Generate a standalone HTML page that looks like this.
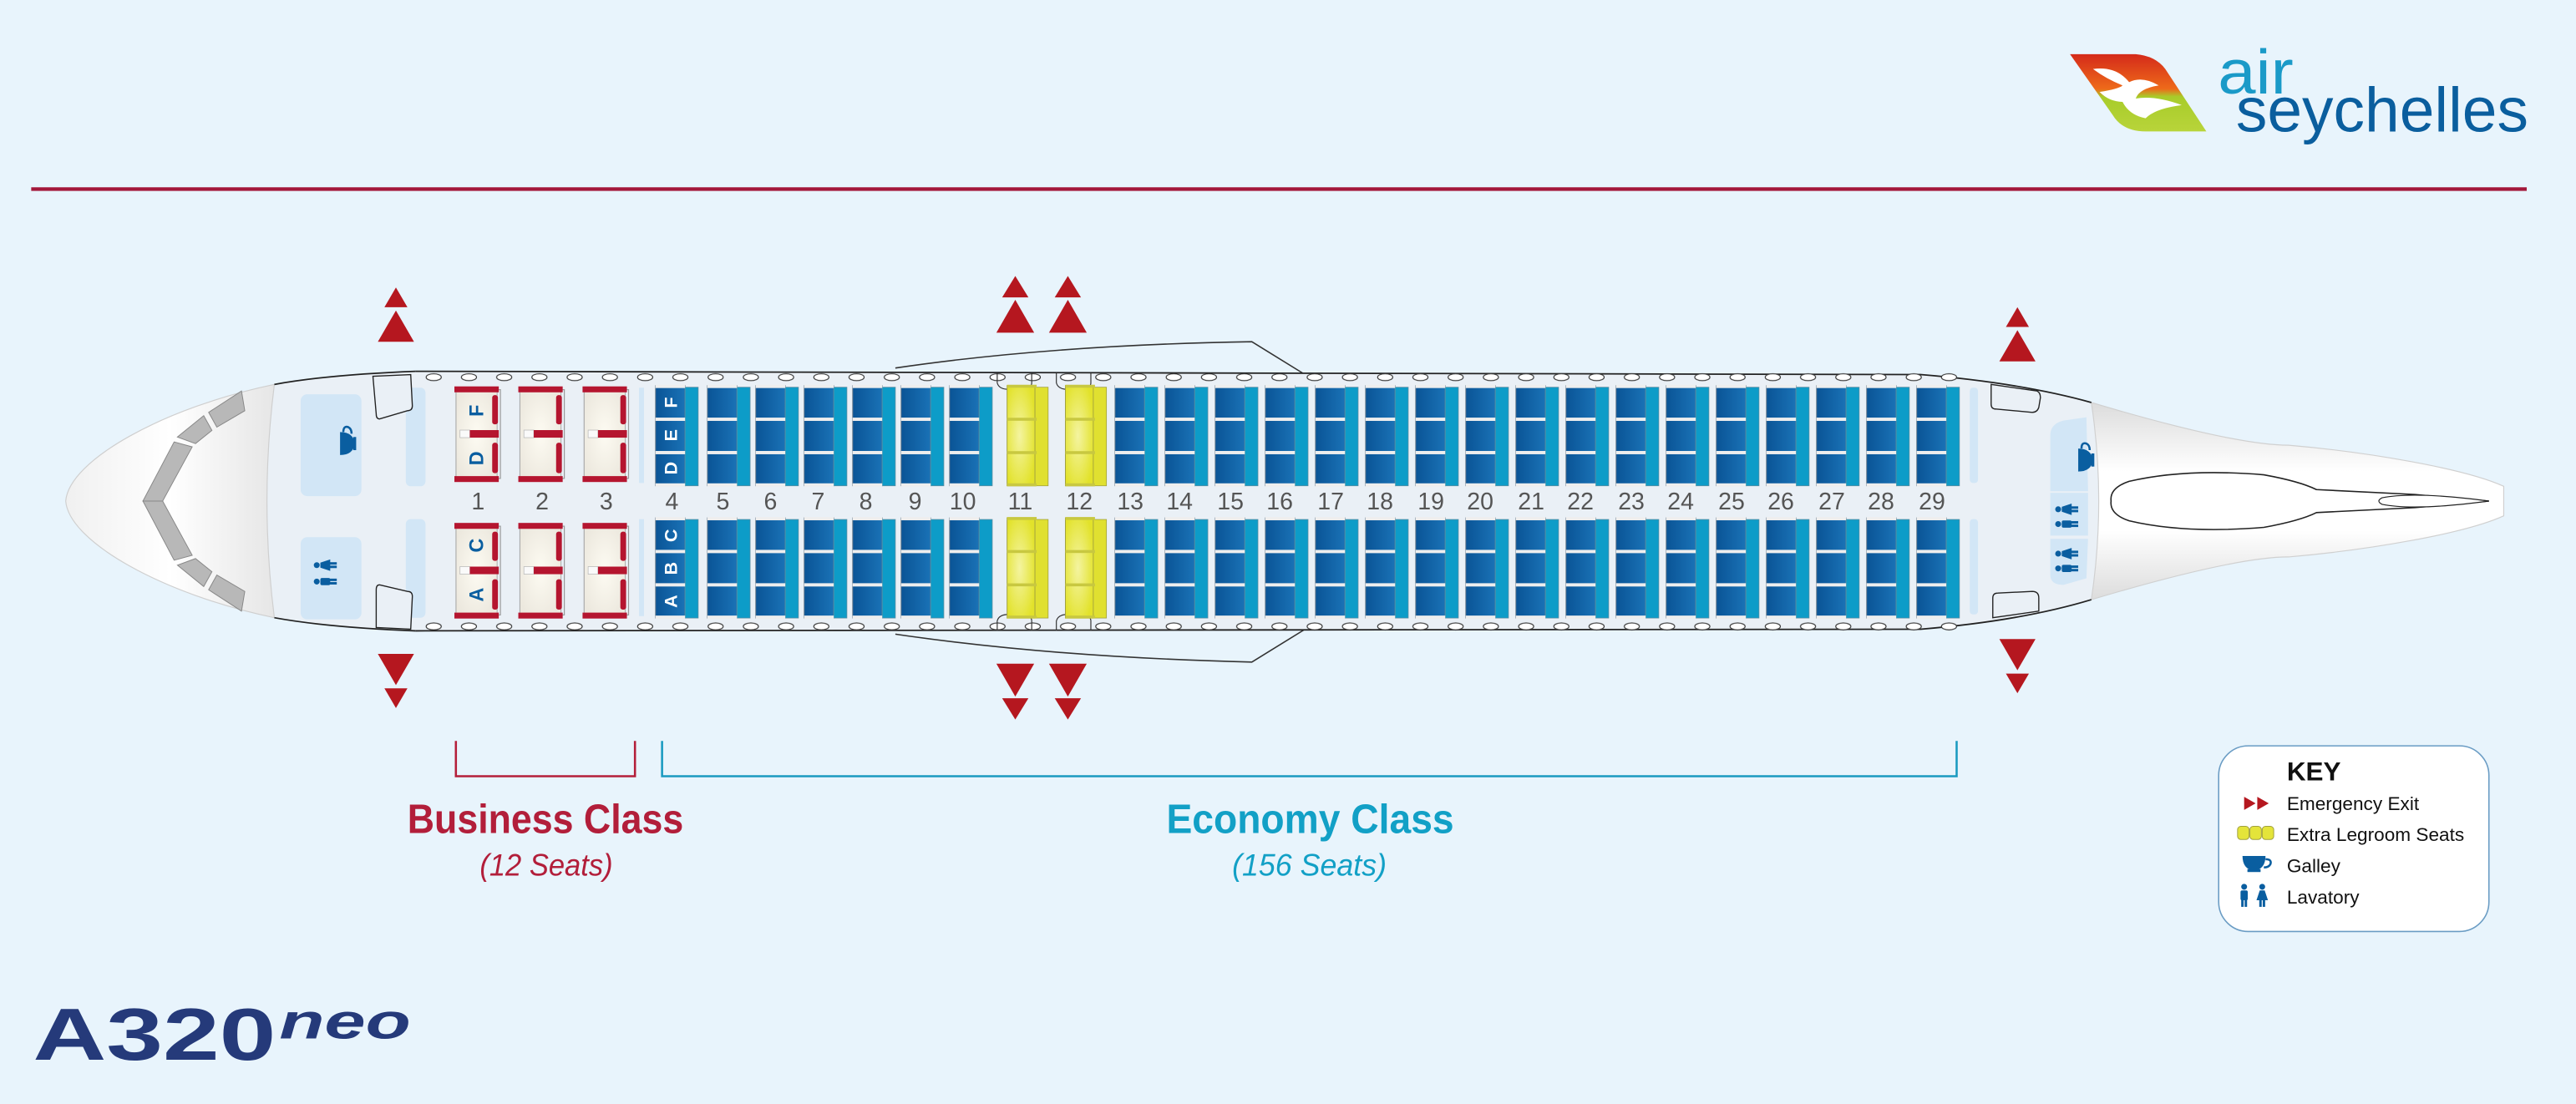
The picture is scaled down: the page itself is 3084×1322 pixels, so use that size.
<!DOCTYPE html>
<html><head><meta charset="utf-8"><style>
html,body{margin:0;padding:0;background:#e8f4fc;}
svg{display:block;}
text{font-family:"Liberation Sans",sans-serif;}
</style></head><body>
<svg width="3084" height="1322" viewBox="0 0 1568 672" preserveAspectRatio="none" xmlns="http://www.w3.org/2000/svg">
<defs>
<linearGradient id="dk" x1="0" x2="1" y1="0" y2="0"><stop offset="0" stop-color="#0a5496"/><stop offset="1" stop-color="#1a72b6"/></linearGradient>
<radialGradient id="yl" cx="0.45" cy="0.5" r="0.6"><stop offset="0" stop-color="#f4f4a0"/><stop offset="1" stop-color="#e2e22a"/></radialGradient>
<radialGradient id="cr" cx="0.5" cy="0.5" r="0.6"><stop offset="0" stop-color="#fdfbf2"/><stop offset="1" stop-color="#ece8de"/></radialGradient>
<linearGradient id="nose" x1="0" x2="1"><stop offset="0" stop-color="#f0f0f0"/><stop offset="0.5" stop-color="#ffffff"/><stop offset="1" stop-color="#e6e6e6"/></linearGradient>
<linearGradient id="tail" x1="0" x2="0" y1="0" y2="1"><stop offset="0" stop-color="#dcdcdc"/><stop offset="0.35" stop-color="#ffffff"/><stop offset="0.65" stop-color="#ffffff"/><stop offset="1" stop-color="#dcdcdc"/></linearGradient>
<linearGradient id="logo" x1="0" x2="0" y1="0" y2="1"><stop offset="0" stop-color="#d42a1a"/><stop offset="0.45" stop-color="#ee6a1a"/><stop offset="0.55" stop-color="#a8cc2a"/><stop offset="1" stop-color="#b8d43a"/></linearGradient>
<pattern id="win" patternUnits="userSpaceOnUse" x="258" y="0" width="21.45" height="700">
<ellipse cx="6" cy="229.6" rx="4.6" ry="2.1" fill="#fff" stroke="#333" stroke-width="0.6"/>
<ellipse cx="6" cy="381.3" rx="4.6" ry="2.1" fill="#fff" stroke="#333" stroke-width="0.6"/>
</pattern>
<g id="eco">
<rect x="0" y="0" width="18" height="61" fill="url(#dk)" stroke="#6a7c8c" stroke-width="0.5"/>
<rect x="18" y="1" width="8" height="60" fill="#0d9cc8" stroke="#5a8ca0" stroke-width="0.4"/>
<rect x="0" y="-0.5" width="18" height="2" fill="#eeeeee"/>
<rect x="0" y="19.5" width="18" height="2" fill="#eeeeee"/>
<rect x="0" y="39.8" width="18" height="2" fill="#eeeeee"/>
<rect x="0" y="59.5" width="18" height="2" fill="#eeeeee"/>
</g>
<g id="yel">
<rect x="0" y="0" width="17" height="61" fill="url(#yl)" stroke="#a0a040" stroke-width="0.5"/>
<rect x="17" y="1" width="8" height="60" fill="#e0e030" stroke="#a0a040" stroke-width="0.4"/>
<rect x="0" y="-0.5" width="18" height="1.8" fill="#c8c840"/>
<rect x="0" y="19.6" width="18" height="1.8" fill="#c8c840"/>
<rect x="0" y="39.9" width="18" height="1.8" fill="#c8c840"/>
<rect x="0" y="59.5" width="18" height="1.8" fill="#c8c840"/>
</g>
<g id="bus">
<rect x="1" y="2" width="27" height="54" fill="none" stroke="#999" stroke-width="0.6"/>
<rect x="1" y="2" width="25" height="54" fill="url(#cr)" stroke="#aaa" stroke-width="0.5"/>
<rect x="0" y="0" width="27" height="3.6" fill="#b5152f"/>
<rect x="0" y="54.6" width="27" height="3.6" fill="#b5152f"/>
<rect x="3.4" y="26.6" width="6" height="4.6" fill="#fafafa" stroke="#bbb" stroke-width="0.4"/>
<rect x="9.4" y="26.6" width="17.6" height="4.6" fill="#b5152f"/>
<rect x="23" y="5.3" width="3.5" height="17.8" rx="1.5" fill="#b5152f"/>
<rect x="23" y="34.3" width="3.5" height="18.5" rx="1.5" fill="#b5152f"/>
</g>
<g id="cup"><path d="M0 0 H14 Q14 8 7 9 Q0 8 0 0 Z" fill="#0a5ea0"/><path d="M14 2 Q18 2 17 5 Q16 7 13 7" fill="none" stroke="#0a5ea0" stroke-width="1.3"/><rect x="3" y="8" width="8" height="1.8" fill="#0a5ea0"/></g>
<g id="man"><circle cx="3" cy="1.8" r="1.8" fill="#0a5ea0"/><rect x="0.8" y="4" width="4.4" height="6" rx="1" fill="#0a5ea0"/><rect x="1.2" y="9" width="1.5" height="5" fill="#0a5ea0"/><rect x="3.3" y="9" width="1.5" height="5" fill="#0a5ea0"/></g>
<g id="wom"><circle cx="3" cy="1.8" r="1.8" fill="#0a5ea0"/><path d="M1.5 4 H4.5 L6.5 10 H-0.5 Z" fill="#0a5ea0"/><rect x="1.2" y="9" width="1.5" height="5" fill="#0a5ea0"/><rect x="3.3" y="9" width="1.5" height="5" fill="#0a5ea0"/></g>
</defs>

<rect width="1568" height="672" fill="#e8f4fc"/>

<!-- header -->
<rect x="19" y="114" width="1519" height="2.2" fill="#a3173a"/>
<g>
<path d="M1260 33 H1300 Q1312 34 1318 42 L1343 80 H1306 Q1292 80 1286 70 Z" fill="url(#logo)"/>
<path d="M1274 42 Q1288 40 1296 50 Q1304 46 1314 52 Q1302 54 1300 60 Q1312 58 1328 64 Q1312 66 1306 72 Q1296 70 1292 62 Q1284 62 1278 56 Q1290 54 1292 52 Q1282 48 1274 42 Z" fill="#fff"/>
</g>
<text x="1350" y="57" font-size="38" fill="#1a9ac8" textLength="46" lengthAdjust="spacingAndGlyphs">air</text>
<text x="1361" y="80" font-size="38" fill="#0a5e9e" textLength="178" lengthAdjust="spacingAndGlyphs">seychelles</text>

<!-- wing bulges -->
<path d="M545 224 Q640 210 762 208 L796 229" fill="none" stroke="#333" stroke-width="0.8"/>
<path d="M545 386 Q640 400 762 403 L796 382" fill="none" stroke="#333" stroke-width="0.8"/>

<!-- fuselage -->
<path d="M253 226 L1169 228 Q1230 233 1273 245 C1330 262 1370 271 1393 271 C1440 275 1500 285 1524 296 L1524 314 C1500 325 1440 335 1393 339 C1370 339 1330 348 1273 365 Q1230 378 1169 383 L253 384 Q200 382 167 376 C100 362 42 330 40 305 C42 280 100 248 167 234 Q200 228 253 226 Z" fill="#eaf0f6"/>
<path d="M167 234 C100 248 42 280 40 305 C42 330 100 362 167 376 Q158 305 167 234 Z" fill="url(#nose)" stroke="#cfcfcf" stroke-width="0.6"/>
<g fill="#b8b8b8" stroke="#888" stroke-width="0.5">
<path d="M87 305 L106 269 L117 272 L99 305 Z"/>
<path d="M108 266 L124 253 L129 262 L119 270 Z"/>
<path d="M127 251 L147 238 L149 250 L132 260 Z"/>
<path d="M87 305 L106 341 L117 338 L99 305 Z"/>
<path d="M108 344 L124 357 L129 348 L119 340 Z"/>
<path d="M127 359 L147 372 L149 360 L132 350 Z"/>
</g>
<path d="M1273 245 C1330 262 1370 271 1393 271 C1440 275 1500 285 1524 296 L1524 314 C1500 325 1440 335 1393 339 C1370 339 1330 348 1273 365 Q1282 305 1273 245 Z" fill="url(#tail)" stroke="#d0d0d0" stroke-width="0.6"/>
<path d="M1296 293 Q1330 285 1378 289 Q1400 293 1410 298 L1470 301 L1515 305 L1470 309 L1410 312 Q1400 317 1378 321 Q1330 325 1296 317 Q1284 313 1285 305 Q1284 297 1296 293 Z" fill="#fff" stroke="#222" stroke-width="0.8"/>
<path d="M1450 303 Q1470 299 1515 305 Q1470 311 1450 307 Q1446 305 1450 303 Z" fill="#fff" stroke="#222" stroke-width="0.6"/>
<path d="M253 226 L1169 228 Q1230 233 1273 245" fill="none" stroke="#222" stroke-width="0.9"/>
<path d="M253 384 L1169 383 Q1230 378 1273 365" fill="none" stroke="#222" stroke-width="0.9"/>
<path d="M253 226 Q200 228 167 234" fill="none" stroke="#222" stroke-width="0.9"/>
<path d="M253 384 Q200 382 167 376" fill="none" stroke="#222" stroke-width="0.9"/>

<rect x="258" y="226" width="936" height="8" fill="url(#win)"/>
<rect x="258" y="378" width="936" height="8" fill="url(#win)"/>
<g fill="none" stroke="#333" stroke-width="0.6">
<path d="M607 227 V233 Q608 237 614 237 H624 Q628 236 628 233 V227"/>
<path d="M643 227 V233 Q644 237 650 237 H660 Q664 236 664 233 V227"/>
<path d="M607 384 V378 Q608 374 614 374 H624 Q628 375 628 378 V384"/>
<path d="M643 384 V378 Q644 374 650 374 H660 Q664 375 664 378 V384"/>
</g>

<rect x="183" y="240" width="37" height="62" rx="4" fill="#d2e6f6"/>
<rect x="183" y="327" width="37" height="50" rx="4" fill="#d2e6f6"/>
<rect x="247" y="236" width="12" height="60" rx="3" fill="#d2e6f6"/>
<rect x="247" y="316" width="12" height="60" rx="3" fill="#d2e6f6"/>
<rect x="389" y="236" width="3" height="58" fill="#d2e6f6"/>
<rect x="389" y="316" width="3" height="59" fill="#d2e6f6"/>
<g transform="translate(207,277) rotate(-90)"><use href="#cup"/></g>
<g transform="translate(191,357) rotate(-90)"><use href="#man"/></g>
<g transform="translate(191,347) rotate(-90)"><use href="#wom"/></g>
<path d="M227 229 L250 228 L251 247 Q251 250 248 250 L231 255 Q229 255 229 252 Z" fill="#eaf0f6" stroke="#222" stroke-width="0.7"/>
<path d="M229 382 L250 383 L251 363 Q251 360 248 360 L231 356 Q229 356 229 359 Z" fill="#eaf0f6" stroke="#222" stroke-width="0.7"/>

<rect x="1199" y="236" width="5" height="58" rx="2" fill="#d2e6f6"/>
<rect x="1199" y="316" width="5" height="58" rx="2" fill="#d2e6f6"/>
<path d="M1248 265 Q1248 258 1256 256 L1270 254 L1271 299 L1248 299 Z" fill="#d2e6f6"/>
<rect x="1248" y="300" width="23" height="26" fill="#d2e6f6"/>
<path d="M1248 328 H1271 L1270 352 L1256 356 Q1248 356 1248 350 Z" fill="#d2e6f6"/>
<g transform="translate(1265,287) rotate(-90)"><use href="#cup"/></g>
<g transform="translate(1251,322) rotate(-90)"><use href="#man"/></g>
<g transform="translate(1251,313) rotate(-90)"><use href="#wom"/></g>
<g transform="translate(1251,349) rotate(-90)"><use href="#man"/></g>
<g transform="translate(1251,340) rotate(-90)"><use href="#wom"/></g>
<path d="M1212 234 L1240 238 Q1242 239 1242 242 L1241 248 Q1240 251 1237 251 L1215 249 Q1212 249 1212 246 Z" fill="#eaf0f6" stroke="#222" stroke-width="0.7"/>
<path d="M1213 376 L1241 372 L1241 364 Q1241 360 1237 360 L1216 361 Q1213 361 1213 364 Z" fill="#eaf0f6" stroke="#222" stroke-width="0.7"/>

<use href="#bus" x="276.6" y="235.2"/><use href="#bus" x="276.6" y="318.3"/>
<use href="#bus" x="315.5" y="235.2"/><use href="#bus" x="315.5" y="318.3"/>
<use href="#bus" x="354.6" y="235.2"/><use href="#bus" x="354.6" y="318.3"/>
<g font-weight="bold" font-size="12" fill="#0a5ea0" text-anchor="middle">
<text transform="translate(294,250) rotate(-90)">F</text>
<text transform="translate(294,279) rotate(-90)">D</text>
<text transform="translate(294,332) rotate(-90)">C</text>
<text transform="translate(294,362) rotate(-90)">A</text>
</g>

<g>
<use href="#eco" x="399" y="234.7"/><use href="#eco" x="399" y="315.2"/>
<use href="#eco" x="430.6" y="234.7"/><use href="#eco" x="430.6" y="315.2"/>
<use href="#eco" x="460" y="234.7"/><use href="#eco" x="460" y="315.2"/>
<use href="#eco" x="489.5" y="234.7"/><use href="#eco" x="489.5" y="315.2"/>
<use href="#eco" x="519" y="234.7"/><use href="#eco" x="519" y="315.2"/>
<use href="#eco" x="548.5" y="234.7"/><use href="#eco" x="548.5" y="315.2"/>
<use href="#eco" x="578" y="234.7"/><use href="#eco" x="578" y="315.2"/>
<use href="#yel" x="613" y="234.7"/><use href="#yel" x="613" y="315.2"/>
<use href="#yel" x="648.5" y="234.7"/><use href="#yel" x="648.5" y="315.2"/>
<use href="#eco" x="678.7" y="234.7"/><use href="#eco" x="678.7" y="315.2"/>
<use href="#eco" x="709.2" y="234.7"/><use href="#eco" x="709.2" y="315.2"/>
<use href="#eco" x="739.7" y="234.7"/><use href="#eco" x="739.7" y="315.2"/>
<use href="#eco" x="770.2" y="234.7"/><use href="#eco" x="770.2" y="315.2"/>
<use href="#eco" x="800.7" y="234.7"/><use href="#eco" x="800.7" y="315.2"/>
<use href="#eco" x="831.2" y="234.7"/><use href="#eco" x="831.2" y="315.2"/>
<use href="#eco" x="861.7" y="234.7"/><use href="#eco" x="861.7" y="315.2"/>
<use href="#eco" x="892.2" y="234.7"/><use href="#eco" x="892.2" y="315.2"/>
<use href="#eco" x="922.7" y="234.7"/><use href="#eco" x="922.7" y="315.2"/>
<use href="#eco" x="953.2" y="234.7"/><use href="#eco" x="953.2" y="315.2"/>
<use href="#eco" x="983.7" y="234.7"/><use href="#eco" x="983.7" y="315.2"/>
<use href="#eco" x="1014.2" y="234.7"/><use href="#eco" x="1014.2" y="315.2"/>
<use href="#eco" x="1044.7" y="234.7"/><use href="#eco" x="1044.7" y="315.2"/>
<use href="#eco" x="1075.2" y="234.7"/><use href="#eco" x="1075.2" y="315.2"/>
<use href="#eco" x="1105.7" y="234.7"/><use href="#eco" x="1105.7" y="315.2"/>
<use href="#eco" x="1136.2" y="234.7"/><use href="#eco" x="1136.2" y="315.2"/>
<use href="#eco" x="1166.7" y="234.7"/><use href="#eco" x="1166.7" y="315.2"/>
</g>
<g font-weight="bold" font-size="11" fill="#ffffff" text-anchor="middle">
<text transform="translate(412,245) rotate(-90)">F</text>
<text transform="translate(412,265) rotate(-90)">E</text>
<text transform="translate(412,285) rotate(-90)">D</text>
<text transform="translate(412,326) rotate(-90)">C</text>
<text transform="translate(412,346) rotate(-90)">B</text>
<text transform="translate(412,366) rotate(-90)">A</text>
</g>

<g font-size="14.5" fill="#555" text-anchor="middle">
<text x="291" y="310">1</text><text x="330" y="310">2</text><text x="369" y="310">3</text>
<text x="409" y="310">4</text><text x="440" y="310">5</text><text x="469" y="310">6</text><text x="498" y="310">7</text><text x="527" y="310">8</text><text x="557" y="310">9</text><text x="586" y="310">10</text>
<text x="621" y="310">11</text><text x="657" y="310">12</text>
<text x="688" y="310">13</text><text x="718" y="310">14</text><text x="749" y="310">15</text><text x="779" y="310">16</text><text x="810" y="310">17</text><text x="840" y="310">18</text><text x="871" y="310">19</text><text x="901" y="310">20</text><text x="932" y="310">21</text><text x="962" y="310">22</text><text x="993" y="310">23</text><text x="1023" y="310">24</text><text x="1054" y="310">25</text><text x="1084" y="310">26</text><text x="1115" y="310">27</text><text x="1145" y="310">28</text><text x="1176" y="310">29</text>
</g>

<g fill="#b5171f">
<path d="M241 175 L248 187 L234 187 Z"/><path d="M241 189 L252 208 L230 208 Z"/>
<path d="M241 417 L252 398 L230 398 Z"/><path d="M241 431 L248 419 L234 419 Z"/>
<path d="M618 168 L626 181 L610 181 Z"/><path d="M618 182.5 L629.5 202.5 L606.5 202.5 Z"/>
<path d="M650 168 L658 181 L642 181 Z"/><path d="M650 182.5 L661.5 202.5 L638.5 202.5 Z"/>
<path d="M618 424 L629.5 404 L606.5 404 Z"/><path d="M618 438 L626 425 L610 425 Z"/>
<path d="M650 424 L661.5 404 L638.5 404 Z"/><path d="M650 438 L658 425 L642 425 Z"/>
<path d="M1228 187 L1235 199 L1221 199 Z"/><path d="M1228 201 L1239 220 L1217 220 Z"/>
<path d="M1228 408 L1239 389 L1217 389 Z"/><path d="M1228 422 L1235 410 L1221 410 Z"/>
</g>

<path d="M277.5 451 V472.5 H386.5 V451" fill="none" stroke="#b41f3a" stroke-width="1.3"/>
<path d="M403 451 V472.5 H1191 V451" fill="none" stroke="#1a9ac0" stroke-width="1.3"/>
<text x="248" y="507" font-size="25" font-weight="bold" fill="#b21e3a" textLength="168" lengthAdjust="spacingAndGlyphs">Business Class</text>
<text x="292" y="533" font-size="19" font-style="italic" fill="#b21e3a" textLength="81" lengthAdjust="spacingAndGlyphs">(12 Seats)</text>
<text x="710" y="507" font-size="25" font-weight="bold" fill="#12a0c6" textLength="175" lengthAdjust="spacingAndGlyphs">Economy Class</text>
<text x="750" y="533" font-size="19" font-style="italic" fill="#12a0c6" textLength="94" lengthAdjust="spacingAndGlyphs">(156 Seats)</text>

<rect x="1350.5" y="454" width="164.5" height="113" rx="18" fill="#ffffff" stroke="#6a9cc4" stroke-width="0.8"/>
<text x="1392" y="475" font-size="16" font-weight="bold" fill="#111">KEY</text>
<g font-size="11.5" fill="#111">
<text x="1392" y="493">Emergency Exit</text>
<text x="1392" y="512">Extra Legroom Seats</text>
<text x="1392" y="531">Galley</text>
<text x="1392" y="550">Lavatory</text>
</g>
<path d="M1366 485 L1373 489 L1366 493 Z M1374 485 L1381 489 L1374 493 Z" fill="#b5171f"/>
<g fill="#e4e43a" stroke="#a0a040" stroke-width="0.5">
<rect x="1362" y="503" width="7" height="8" rx="2"/><rect x="1369.5" y="503" width="7" height="8" rx="2"/><rect x="1377" y="503" width="7" height="8" rx="2"/>
</g>
<use href="#cup" x="1365" y="521"/>
<use href="#man" x="1363" y="538"/>
<use href="#wom" x="1374" y="538"/>

<text x="20" y="645" font-size="45" font-weight="bold" fill="#253a7a" textLength="148" lengthAdjust="spacingAndGlyphs">A320</text>
<text x="170" y="632" font-size="30" font-weight="bold" font-style="italic" fill="#253a7a" textLength="80" lengthAdjust="spacingAndGlyphs">neo</text>
</svg>
</body></html>
